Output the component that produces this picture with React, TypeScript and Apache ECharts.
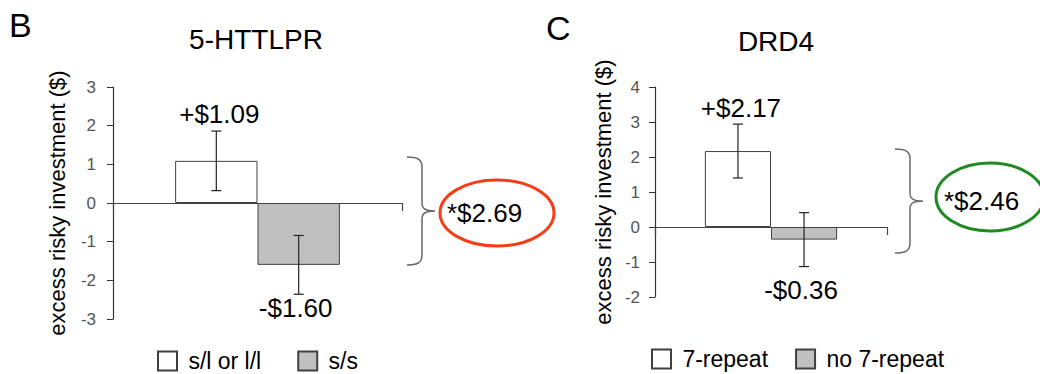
import React, { useEffect, useRef } from "react";
import * as echarts from "echarts";

// ---- data ----
const httlprGroups = ["s/l or l/l", "s/s"];
const httlprMeans = [1.09, -1.6];
const httlprErrors = [0.77, 0.76];
const httlprLabels = ["+$1.09", "-$1.60"];
const httlprTicks = { min: -3, max: 3, interval: 1 };
const httlprDiff = "*$2.69";

const drd4Groups = ["7-repeat", "no 7-repeat"];
const drd4Means = [2.17, -0.36];
const drd4Errors = [0.77, 0.77];
const drd4Labels = ["+$2.17", "-$0.36"];
const drd4Ticks = { min: -2, max: 4, interval: 1 };
const drd4Diff = "*$2.46";

const panelTitles = ["5-HTTLPR", "DRD4"];
const panelLetters = ["B", "C"];
const yName = "excess risky investment ($)";
const fillColors = ["#ffffff", "#c0c0c0"];

const FONT = "'Liberation Sans', Arial, Helvetica, sans-serif";
const GAP = 0.43;

echarts.graphic.registerShape(
  "brace",
  echarts.graphic.extendPath(
    "M0,0 C10,0 15,2 15,10 L15,46 C15,52 19,54 28,54 C19,54 15,56 15,62 L15,98 C15,106 10,108 0,108",
    {}
  )
);

function makeErrRender(labels: string[], posOff: number, negOff: number, dx: number) {
  return (params: any, api: any) => {
    const idx = api.value(3);
    const mean = api.value(1);
    const err = api.value(2);
    const center = api.coord([0, mean]);
    const band = api.size([1, 0])[0];
    const bw = (band * (1 - GAP)) / 2;
    const x = center[0] + (idx - 0.5) * bw;
    const top = api.coord([0, mean + err])[1];
    const bot = api.coord([0, mean - err])[1];
    const cap = 5;
    const ls = { stroke: "#222", lineWidth: 1.2 };
    const positive = mean >= 0;
    const ly = positive ? top - posOff : bot + negOff;
    const lx = x + (idx === 0 ? dx : -dx);
    return {
      type: "group",
      children: [
        { type: "line", shape: { x1: x, y1: top, x2: x, y2: bot }, style: ls },
        { type: "line", shape: { x1: x - cap, y1: top, x2: x + cap, y2: top }, style: ls },
        { type: "line", shape: { x1: x - cap, y1: bot, x2: x + cap, y2: bot }, style: ls },
        {
          type: "text",
          x: lx,
          y: ly,
          style: {
            text: labels[idx],
            fill: "#000",
            fontSize: 26,
            fontFamily: FONT,
            align: "center",
            verticalAlign: "middle",
          },
        },
      ],
    };
  };
}

function buildPanel(
  gi: number,
  groups: string[],
  means: number[],
  errors: number[],
  labels: string[],
  ticks: { min: number; max: number; interval: number },
  posOff: number,
  negOff: number,
  nameGap: number,
  axisMargin: number
) {
  const xAxis = {
    type: "category",
    gridIndex: gi,
    data: [panelTitles[gi]],
    axisLine: { show: true, onZero: true, lineStyle: { color: "#444", width: 1.2 } },
    axisTick: { show: true, length: 8, lineStyle: { color: "#444", width: 1.2 } },
    axisLabel: { show: false },
    splitLine: { show: false },
  };
  const yAxis = {
    type: "value",
    gridIndex: gi,
    min: ticks.min,
    max: ticks.max,
    interval: ticks.interval,
    name: yName,
    nameLocation: "middle",
    nameRotate: 90,
    nameGap,
    nameTextStyle: { fontSize: 22, color: "#000", fontFamily: FONT },
    axisLine: { show: true, lineStyle: { color: "#333", width: 1.2 } },
    axisTick: { show: true, length: 6, lineStyle: { color: "#333" } },
    axisLabel: { fontSize: 17, color: "#555", fontFamily: FONT, margin: axisMargin },
    splitLine: { show: false },
  };
  const bars = groups.map((g, i) => ({
    type: "bar",
    name: g,
    xAxisIndex: gi,
    yAxisIndex: gi,
    data: [means[i]],
    barGap: "0%",
    barCategoryGap: GAP * 100 + "%",
    itemStyle: { color: fillColors[i], borderColor: "#404040", borderWidth: 1 },
    silent: true,
  }));
  const err = {
    type: "custom",
    xAxisIndex: gi,
    yAxisIndex: gi,
    z: 5,
    renderItem: makeErrRender(labels, posOff, negOff, 3),
    data: means.map((m, i) => [0, m, errors[i], i]),
    silent: true,
  };
  return { xAxis, yAxis, series: [...bars, err] };
}

export default function App() {
  const ref = useRef<HTMLDivElement>(null);
  useEffect(() => {
    if (!ref.current) return;
    const chart = echarts.init(ref.current, undefined, { renderer: "svg" });
    const p1 = buildPanel(0, httlprGroups, httlprMeans, httlprErrors, httlprLabels, httlprTicks, 17, 14, 45, 17);
    const p2 = buildPanel(1, drd4Groups, drd4Means, drd4Errors, drd4Labels, drd4Ticks, 16, 23, 41, 15);
    const legendBase = {
      orient: "horizontal",
      itemWidth: 19,
      itemHeight: 19,
      icon: "rect",
      selectedMode: false,
      padding: 0,
      formatter: " {name}",
      textStyle: { fontSize: 23, color: "#000", fontFamily: FONT, lineHeight: 24 },
    };
    chart.setOption({
      animation: false,
      textStyle: { fontFamily: FONT },
      grid: [
        { left: 113, top: 87, width: 289, height: 232 },
        { left: 655, top: 87, width: 232, height: 210 },
      ],
      title: [
        { text: panelTitles[0], left: 251, top: 20, textAlign: "center", textStyle: { fontSize: 28, fontWeight: "normal", color: "#000", fontFamily: FONT } },
        { text: panelTitles[1], left: 771, top: 22, textAlign: "center", textStyle: { fontSize: 28, fontWeight: "normal", color: "#000", fontFamily: FONT } },
      ],
      legend: [
        { ...legendBase, left: 157, top: 349, itemGap: 36, data: httlprGroups },
        { ...legendBase, left: 651, top: 347, itemGap: 27, data: drd4Groups },
      ],
      xAxis: [p1.xAxis, p2.xAxis],
      yAxis: [p1.yAxis, p2.yAxis],
      series: [...p1.series, ...p2.series],
      graphic: [
        { type: "text", x: 9, y: 25, style: { text: panelLetters[0], fontSize: 34, fill: "#000", fontFamily: FONT, verticalAlign: "middle" } },
        { type: "text", x: 546, y: 28, style: { text: panelLetters[1], fontSize: 34, fill: "#000", fontFamily: FONT, verticalAlign: "middle" } },
        { type: "brace", x: 407, y: 157, style: { fill: "none", stroke: "#6a6a6a", lineWidth: 1.5 } },
        { type: "brace", x: 895, y: 149, scaleY: 104 / 108, style: { fill: "none", stroke: "#6a6a6a", lineWidth: 1.5 } },
        { type: "ellipse", shape: { cx: 497, cy: 213, rx: 57, ry: 33 }, style: { fill: "none", stroke: "#f73d18", lineWidth: 3 } },
        { type: "ellipse", shape: { cx: 990, cy: 197, rx: 54, ry: 34 }, style: { fill: "none", stroke: "#1f8a1f", lineWidth: 3 } },
        { type: "text", x: 447, y: 213, style: { text: httlprDiff, fontSize: 26, fill: "#000", fontFamily: FONT, verticalAlign: "middle" } },
        { type: "text", x: 944, y: 201, style: { text: drd4Diff, fontSize: 26, fill: "#000", fontFamily: FONT, verticalAlign: "middle" } },
      ],
    });
    return () => chart.dispose();
  }, []);
  return (
    <div
      ref={ref}
      style={{ position: "fixed", left: 0, top: 0, width: 1040, height: 374, background: "#fff" }}
    />
  );
}
